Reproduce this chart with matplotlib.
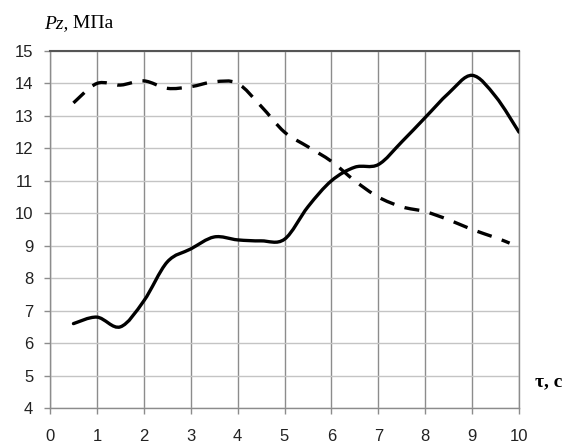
import numpy as np
import matplotlib
matplotlib.use('Agg')
from matplotlib import pyplot as plt
from matplotlib.path import Path
from matplotlib.patches import PathPatch

plt.rcParams['font.family'] = 'Liberation Sans'

# time, s
t_solid = [0.5, 1.0, 1.5, 2.0, 2.5, 3.0, 3.5, 4.0, 4.5, 5.0,
           5.5, 6.0, 6.5, 7.0, 7.5, 8.0, 8.5, 9.0, 9.5, 10.0]
p_solid = [6.6, 6.8, 6.5, 7.3, 8.5, 8.9, 9.27, 9.18, 9.15, 9.2,
           10.2, 11.0, 11.42, 11.5, 12.2, 12.95, 13.7, 14.25, 13.6, 12.5]

t_dash = [0.5, 1.0, 1.5, 2.0, 2.5, 3.0, 3.5, 4.0, 4.5, 5.0,
          5.5, 6.0, 6.5, 7.0, 7.5, 8.0, 8.5, 9.0, 9.5, 9.8]
p_dash = [13.4, 14.0, 13.95, 14.08, 13.85, 13.9, 14.05, 14.0, 13.3, 12.5,
          12.05, 11.6, 11.0, 10.5, 10.2, 10.05, 9.8, 9.5, 9.25, 9.08]

x_ticks = list(range(0, 11))
y_ticks = list(range(4, 16))


def smooth_path(xs, ys):
    # Catmull-Rom segments turned into cubic Bezier pieces
    pts = np.column_stack([xs, ys])
    verts = [pts[0]]
    codes = [Path.MOVETO]
    n = len(pts)
    for i in range(n - 1):
        p0 = pts[i - 1] if i > 0 else pts[i]
        p1 = pts[i]
        p2 = pts[i + 1]
        p3 = pts[i + 2] if i + 2 < n else pts[i + 1]
        c1 = p1 + (p2 - p0) / 6.0
        c2 = p2 - (p3 - p1) / 6.0
        verts += [c1, c2, p2]
        codes += [Path.CURVE4] * 3
    return Path(verts, codes)


fig = plt.figure(figsize=(5.66, 4.45), dpi=100)
ax = fig.add_axes([50 / 566, 37 / 445, 469 / 566, 357 / 445])

ax.set_xlim(0, 10)
ax.set_ylim(4, 15)
ax.set_xticks(x_ticks)
ax.set_yticks(y_ticks)

for x in x_ticks:
    ax.axvline(x, color='#8c8c8c', lw=1.0, zorder=1)
for y in y_ticks:
    ax.axhline(y, color='#c4c4c4', lw=1.0, zorder=1)

ax.spines['top'].set_color('#555555')
ax.spines['top'].set_linewidth(1.5)
for s in ['left', 'right', 'bottom']:
    ax.spines[s].set_color('#8c8c8c')
    ax.spines[s].set_linewidth(1.0)

ax.tick_params(axis='x', direction='out', length=4, width=1, color='#8c8c8c',
               pad=11, labelsize=12, labelcolor='#222222')
ax.tick_params(axis='y', direction='out', length=4, width=1, color='#8c8c8c',
               pad=8, labelsize=12, labelcolor='#222222')

ax.add_patch(PathPatch(smooth_path(t_solid, p_solid), fill=False,
                       color='black', lw=2.4, capstyle='round', zorder=3))
ax.add_patch(PathPatch(smooth_path(t_dash, p_dash), fill=False,
                       color='black', lw=2.4, linestyle=(0, (4.5, 3.2)),
                       capstyle='butt', zorder=3))

# y-axis title: italic symbol followed by the unit
t1 = fig.text(44 / 566, 1 - 24 / 445, 'Pz,', fontsize=14, style='italic',
              family='Liberation Serif', va='center', ha='left')
ax.annotate(' МПа', xy=(1, 0), xycoords=t1, va='bottom', ha='left',
            fontsize=14, family='Liberation Serif')

fig.text(535 / 566, 1 - 382 / 445, 'τ, c', fontsize=14, fontweight='bold',
         family='Liberation Serif', va='center', ha='left')

fig.savefig('out.png', dpi=100)
